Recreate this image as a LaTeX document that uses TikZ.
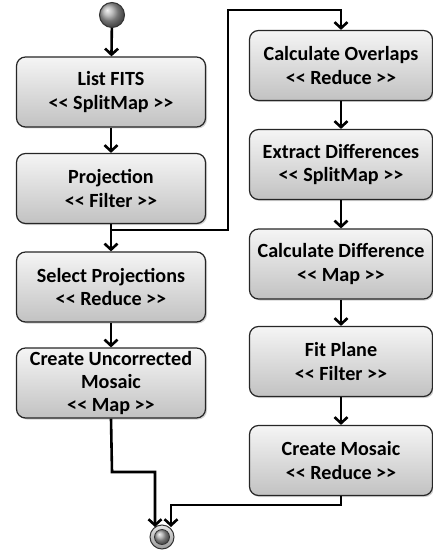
\documentclass[tikz,border=0pt]{standalone}
\usepackage{fontspec}
\setmainfont{Carlito}
\usetikzlibrary{arrows.meta,shadows}
\newcommand\dlt{<\kern0pt<}
\newcommand\dgt{>\kern0pt>}
\begin{document}
\begin{tikzpicture}[x=1bp,y=-1bp,
  act/.style={draw=black!85, line width=1.2bp, rounded corners=9bp,
    top color=black!4, bottom color=black!24,
    drop shadow={shadow xshift=1.5bp, shadow yshift=-1.5bp, opacity=0.35},
    minimum height=70bp, align=center, inner sep=1bp,
    font=\fontsize{20.2}{23.5}\selectfont\bfseries},
  lact/.style={act, minimum width=189bp},
  ract/.style={act, minimum width=183bp},
  flow/.style={line width=2.6bp, black, -{Straight Barb[length=6bp,width=13bp]}}
]
\useasboundingbox (0,0) rectangle (433,554);
% start
\node[circle, minimum size=25bp, inner sep=0pt, draw=black!80, line width=1bp,
  shading=ball, ball color=black!35] (start) at (112,15) {};
% left column
\node[lact] (fits) at (111,92) {List FITS\\\dlt{} SplitMap \dgt};
\node[lact] (proj) at (111,188.5) {Projection\\\dlt{} Filter \dgt};
\node[lact] (sel) at (111,287) {Select Projections\\\dlt{} Reduce \dgt};
\node[lact] (unc) at (111,383) {Create Uncorrected\\Mosaic\\\dlt{} Map \dgt};
% right column
\node[ract] (ovl) at (341,65.5) {Calculate Overlaps\\\dlt{} Reduce \dgt};
\node[ract] (ext) at (341,164.5) {Extract Differences\\\dlt{} SplitMap \dgt};
\node[ract] (cdf) at (341,264) {Calculate Difference\\\dlt{} Map \dgt};
\node[ract] (fit) at (341,361.5) {Fit Plane\\\dlt{} Filter \dgt};
\node[ract] (mos) at (341,460.5) {Create Mosaic\\\dlt{} Reduce \dgt};
% end
\node[circle, minimum size=24bp, inner sep=0pt, draw=black!80, line width=1bp,
  top color=black!10, bottom color=black!40] (end) at (162,537) {};
\node[circle, minimum size=15bp, inner sep=0pt, draw=black!80, line width=0.8bp,
  shading=ball, ball color=black!35] (endin) at (end.center) {};
% coordinates
\coordinate (j) at (112,230);
\coordinate (b1) at (228,230);
\coordinate (b2) at (228,10);
\coordinate (b3) at (341,10);
\coordinate (u1) at (112,472);
\coordinate (e1) at (155,527);
\coordinate (m1) at (341,505);
\coordinate (e2) at (171,527);
% connectors
\draw[flow] (start) -- (fits);
\draw[flow] (fits) -- (proj);
\draw[flow] (proj) -- (sel);
\draw[flow] (sel) -- (unc);
\draw[flow] (j) -- (b1) -- (b2) -- (b3) -- (ovl);
\draw[flow] (ovl) -- (ext);
\draw[flow] (ext) -- (cdf);
\draw[flow] (cdf) -- (fit);
\draw[flow] (fit) -- (mos);
\draw[flow] (unc.south) -- (u1) -| (e1);
\draw[flow] (mos.south) -- (m1) -| (e2);
\end{tikzpicture}
\end{document}
